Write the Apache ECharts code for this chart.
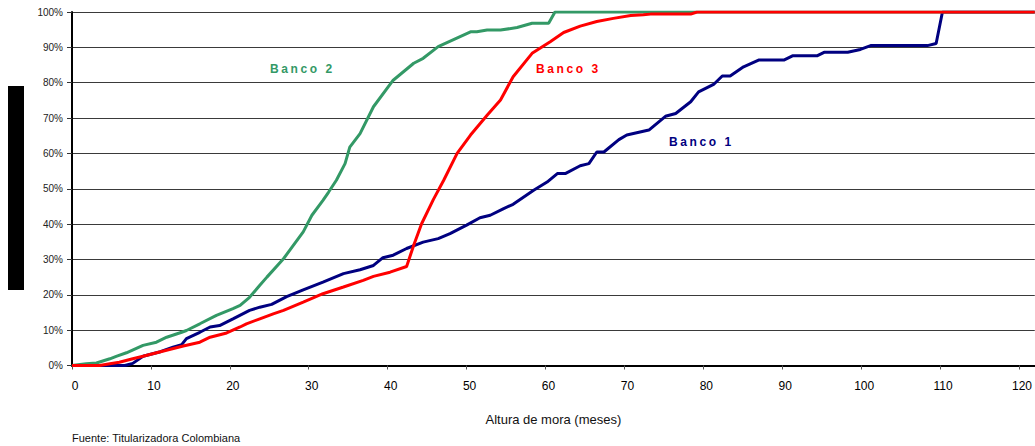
<!DOCTYPE html>
<html>
<head>
<meta charset="utf-8">
<script src="https://cdn.jsdelivr.net/npm/echarts@6.0.0/dist/echarts.min.js"></script>
<style>
  html, body { margin: 0; padding: 0; background: #fff; }
  #chart { width: 1035px; height: 446px; }
</style>
</head>
<body>
<div id="chart"></div>
<script>
// ---- Data ----
const xTicks = [0, 10, 20, 30, 40, 50, 60, 70, 80, 90, 100, 110, 120];
const yTicks = [0, 10, 20, 30, 40, 50, 60, 70, 80, 90, 100];

const banco1Months = [0, 6.7, 7.7, 9.0, 11.2, 12.8, 13.9, 14.5, 16.2, 17.5,
  18.7, 20.4, 22.5, 23.8, 25.3, 27.2, 29.3, 31.8, 34.4, 36.5,
  38.2, 39.4, 40.7, 42.4, 44.5, 46.4, 47.9, 50.0, 51.7, 53.0,
  54.7, 55.9, 58.5, 60.2, 61.5, 62.5, 64.4, 65.5, 66.5, 67.4,
  69.3, 70.3, 73.1, 75.2, 76.5, 78.4, 79.4, 81.3, 82.4, 83.4,
  85.1, 87.0, 90.2, 91.3, 94.4, 95.3, 98.3, 99.9, 101.2, 108.4,
  109.5, 110.3, 122];
const banco1Values = [0, 0, 0.6, 2.6, 3.9, 5.2, 5.9, 7.6, 9.4, 10.9,
  11.3, 13.2, 15.6, 16.5, 17.3, 19.5, 21.4, 23.6, 26.0, 27.1,
  28.3, 30.5, 31.2, 33.1, 34.9, 35.9, 37.3, 39.7, 41.8, 42.5,
  44.4, 45.6, 49.6, 51.9, 54.3, 54.3, 56.5, 57.1, 60.4, 60.4,
  63.9, 65.2, 66.6, 70.5, 71.3, 74.6, 77.4, 79.5, 81.9, 81.9,
  84.5, 86.4, 86.4, 87.6, 87.6, 88.6, 88.6, 89.4, 90.5, 90.5,
  91.1, 100, 100];

const banco2Months = [0, 1.8, 3.1, 4.8, 5.6, 6.9, 9.0, 10.7, 12.0, 13.9,
  14.5, 16.2, 18.3, 20.4, 21.3, 22.5, 23.8, 24.7, 26.8, 29.3,
  30.4, 31.8, 32.5, 33.5, 34.6, 35.2, 36.5, 38.2, 40.7, 43.3,
  44.5, 46.4, 50.5, 51.3, 52.6, 54.3, 56.4, 58.3, 60.4, 61.2,
  122];
const banco2Values = [0, 0.5, 0.7, 1.9, 2.6, 3.6, 5.7, 6.6, 8.0, 9.4,
  9.9, 11.8, 14.2, 16.1, 17.0, 19.3, 22.7, 25.0, 30.2, 37.8,
  42.5, 46.7, 49.0, 52.4, 57.1, 61.8, 65.6, 73.2, 80.7, 85.5,
  86.9, 90.2, 94.4, 94.4, 94.9, 94.9, 95.6, 96.8, 96.8, 100,
  100];

const banco3Months = [0, 3.5, 4.8, 6.0, 7.7, 9.0, 11.1, 14.1, 16.2, 17.5,
  19.6, 21.3, 22.1, 23.8, 25.5, 26.8, 29.3, 31.8, 34.4, 36.9,
  38.2, 40.3, 42.4, 43.3, 44.3, 45.8, 47.1, 48.8, 50.5, 52.6,
  54.3, 55.9, 58.3, 60.6, 62.3, 64.4, 66.5, 68.6, 70.8, 72.4,
  73.3, 78.4, 79.2, 122];
const banco3Values = [0, 0, 0.5, 0.9, 1.9, 2.6, 3.8, 5.5, 6.6, 8.0,
  9.2, 10.9, 11.8, 13.2, 14.6, 15.6, 17.9, 20.3, 22.2, 24.1,
  25.2, 26.4, 28.0, 34.0, 40.1, 47.0, 52.4, 60.0, 65.2, 70.8,
  75.1, 81.7, 88.3, 91.6, 94.2, 96.0, 97.3, 98.2, 99.0, 99.2,
  99.4, 99.4, 100, 100];

const seriesNames = ['Banco 1', 'Banco 2', 'Banco 3'];
const xAxisTitle = 'Altura de mora (meses)';
const sourceText = 'Fuente: Titularizadora Colombiana';

// ---- Chart ----
const pairs = (xs, ys) => xs.map((x, i) => [x, ys[i]]);
const FONT = '"Liberation Sans", Arial, sans-serif';

const chart = echarts.init(document.getElementById('chart'), null, { renderer: 'svg' });

const option = {
  animation: false,
  backgroundColor: '#ffffff',
  grid: { left: 72, right: 0, top: 12, bottom: 80.5, containLabel: false },
  xAxis: {
    type: 'value',
    min: 0,
    max: 122,
    interval: 10,
    name: xAxisTitle,
    nameLocation: 'middle',
    nameGap: 47,
    nameTextStyle: { color: '#111', fontSize: 13, fontFamily: FONT },
    axisLine: { show: true, lineStyle: { color: '#000', width: 2 } },
    axisTick: { show: true, length: 4, customValues: xTicks, lineStyle: { color: '#555', width: 1 } },
    axisLabel: { customValues: xTicks, color: '#000', fontSize: 12, fontFamily: FONT, margin: 14, padding: [0, 0, 0, 6] },
    splitLine: { show: false }
  },
  yAxis: {
    type: 'value',
    min: 0,
    max: 100,
    interval: 10,
    axisLine: { show: true, lineStyle: { color: '#000', width: 2 } },
    axisTick: { show: true, length: 5, lineStyle: { color: '#333', width: 1 } },
    axisLabel: { formatter: '{value}%', color: '#222', fontSize: 10, fontFamily: FONT, margin: 9 },
    splitLine: { show: true, lineStyle: { color: '#3a3a3a', width: 1 } }
  },
  series: [
    {
      name: seriesNames[0], type: 'line', symbol: 'none', z: 2,
      data: pairs(banco1Months, banco1Values),
      lineStyle: { color: '#000080', width: 3 }
    },
    {
      name: seriesNames[1], type: 'line', symbol: 'none', z: 3,
      data: pairs(banco2Months, banco2Values),
      lineStyle: { color: '#339966', width: 3 }
    },
    {
      name: seriesNames[2], type: 'line', symbol: 'none', z: 4,
      data: pairs(banco3Months, banco3Values),
      lineStyle: { color: '#ff0000', width: 3 }
    }
  ],
  graphic: [
    { type: 'rect', shape: { x: 8, y: 86, width: 16, height: 204 }, style: { fill: '#000' } },
    { type: 'text', x: 270, y: 69, style: { text: seriesNames[1], fill: '#339966', font: 'bold 12px ' + FONT, align: 'left', verticalAlign: 'middle' } },
    { type: 'text', x: 536, y: 69, style: { text: seriesNames[2], fill: '#ff0000', font: 'bold 12px ' + FONT, align: 'left', verticalAlign: 'middle' } },
    { type: 'text', x: 669, y: 142, style: { text: seriesNames[0], fill: '#000080', font: 'bold 12px ' + FONT, align: 'left', verticalAlign: 'middle' } },
    { type: 'text', x: 72, y: 438, style: { text: sourceText, fill: '#111', font: '11px ' + FONT, align: 'left', verticalAlign: 'middle' } }
  ]
};

chart.setOption(option);

function applySpacing() {
  document.querySelectorAll('#chart text').forEach(function (t) {
    if (/^Banco/.test(t.textContent)) {
      t.setAttribute('letter-spacing', '2.6');
      t.style.letterSpacing = '2.6px';
    }
  });
}
applySpacing();
chart.on('finished', applySpacing);
setTimeout(applySpacing, 50);
</script>
</body>
</html>
